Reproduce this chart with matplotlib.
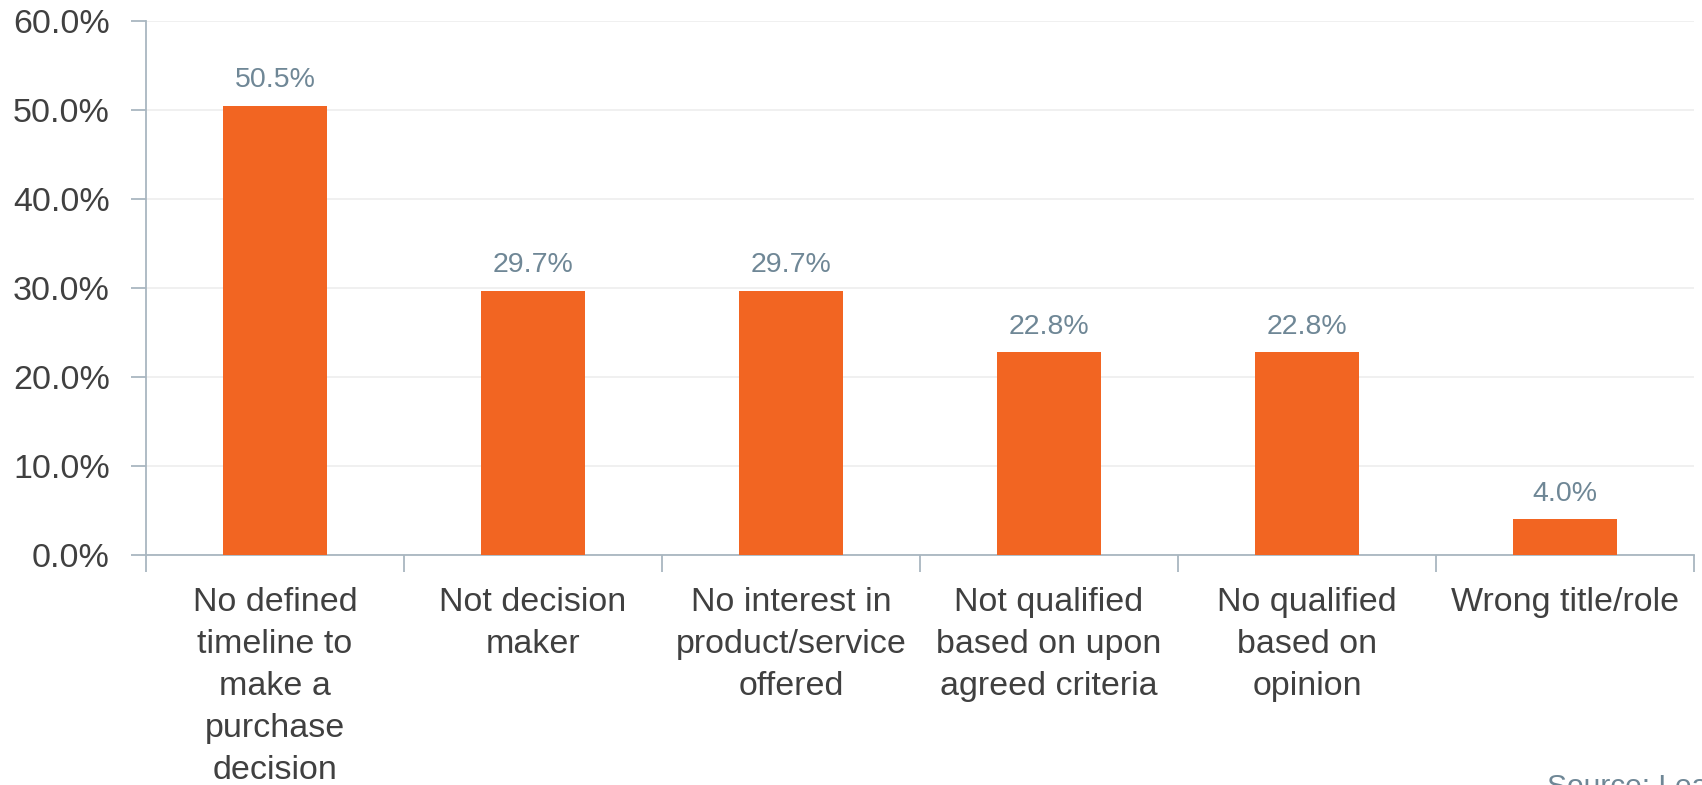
import numpy as np
import matplotlib.pyplot as plt
from matplotlib.ticker import FuncFormatter, FixedLocator, NullFormatter

# data
categories = ["No defined\ntimeline to\nmake a\npurchase\ndecision",
              "Not decision\nmaker",
              "No interest in\nproduct/service\noffered",
              "Not qualified\nbased on upon\nagreed criteria",
              "No qualified\nbased on\nopinion",
              "Wrong title/role"]
values = [50.5, 29.7, 29.7, 22.8, 22.8, 4.0]

bar_color = "#F26522"
axis_color = "#A9B6C0"
label_color = "#6F8796"
text_color = "#404040"

plt.rcParams['font.family'] = ['Liberation Sans', 'DejaVu Sans']

fig = plt.figure(figsize=(17.02, 7.85), dpi=100)
ax = fig.add_axes([146 / 1702, 1 - 555 / 785, (1694 - 146) / 1702, (555 - 21) / 785])

x = np.arange(len(categories))
bars = ax.bar(x, values, width=0.4, color=bar_color, zorder=3)

for b, v in zip(bars, values):
    ax.text(b.get_x() + b.get_width() / 2, v + 1.4, f"{v:.1f}%",
            ha='center', va='bottom', fontsize=20.5, color=label_color)

ax.set_xlim(-0.5, len(categories) - 0.5)
ax.set_ylim(0, 60)
ax.set_yticks(np.arange(0, 61, 10))
ax.yaxis.set_major_formatter(FuncFormatter(lambda v, p: f"{v:.1f}%"))
ax.grid(axis='y', color='#EEEEEE', linewidth=1.2, zorder=0)

# category labels centered, ticks at boundaries
ax.xaxis.set_major_locator(FixedLocator(np.arange(-0.5, len(categories), 1.0)))
ax.xaxis.set_major_formatter(NullFormatter())
ax.xaxis.set_minor_locator(FixedLocator(x))
ax.set_xticklabels(categories, minor=True)
ax.tick_params(axis='x', which='minor', length=0, pad=23, labelsize=24.5,
               labelcolor=text_color)
ax.tick_params(axis='x', which='major', length=12, width=1.3, color=axis_color)
ax.tick_params(axis='y', length=11, width=1.3, color=axis_color, labelsize=24.5,
               labelcolor=text_color, pad=15)
for lbl in ax.get_xticklabels(minor=True):
    lbl.set_linespacing(1.46)

for side in ['top', 'right']:
    ax.spines[side].set_visible(False)
for side in ['left', 'bottom']:
    ax.spines[side].set_color(axis_color)
    ax.spines[side].set_linewidth(1.3)

# source note is cut by the right/bottom edge in the reference as well
fig.text(1547 / 1702, 1 - 773 / 785, "Source: Leadfeeder", ha='left', va='top',
         fontsize=21.5, color=label_color)

fig.savefig("out.png", dpi=100)
